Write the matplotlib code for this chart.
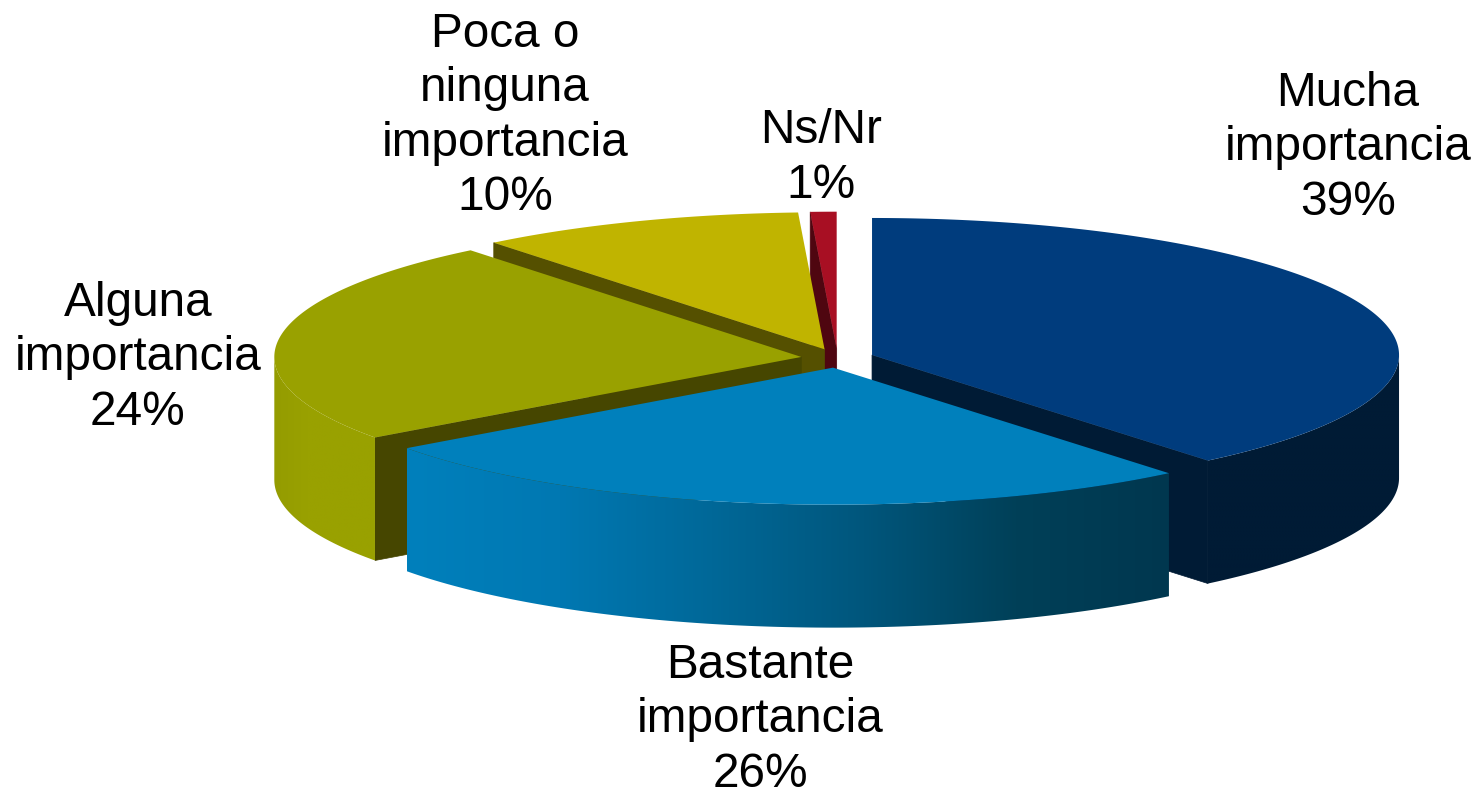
import numpy as np
from matplotlib import pyplot as plt
from matplotlib.colors import LinearSegmentedColormap
from matplotlib.patches import Polygon

plt.rcParams['font.family'] = ['Liberation Sans', 'DejaVu Sans']

# orden de la tarta, en sentido horario desde arriba
categorias = ['Mucha\nimportancia', 'Bastante\nimportancia', 'Alguna\nimportancia',
              'Poca o\nninguna\nimportancia', 'Ns/Nr']
valores = [39, 26, 24.2, 10, 0.8]

color_tapa = ['#003c7d', '#0080bc', '#99a100', '#c0b400', '#a80f23']
color_corte = ['#001b35', '#00374f', '#464600', '#555000', '#4f0610']
# degradado del lateral, de izquierda a derecha
color_lado = [['#001b35', '#001b35'],
              ['#0080bc', '#0078b2', '#006898', '#00567c', '#004058', '#00374f'],
              ['#949c00', '#99a100', '#99a100', '#99a100'],
              ['#555000', '#555000'],
              ['#4f0610', '#4f0610']]

# medidas en pixeles de la imagen
cx0, cy0 = 837.6, 358.2
rx, ry = 527, 137
alto = 123
explode = 36.6
etiqueta_xy = [(1348, 148), (760, 720), (138, 358), (505, 116), (821, 158)]
orden = [4, 3, 2, 0, 1]  # de atras hacia delante


def punto(cx, cy, ang):
    a = np.radians(ang)
    return cx + rx * np.cos(a), cy - ry * np.sin(a)


fig = plt.figure(figsize=(14.79, 7.91), dpi=100)
ax = fig.add_axes([0, 0, 1, 1])

bordes = 90 - np.concatenate(([0], np.cumsum(valores))) / np.sum(valores) * 360

for capa, i in enumerate(orden):
    z = capa * 10
    ini, fin = bordes[i], bordes[i + 1]  # ini > fin
    med = (ini + fin) / 2
    cx = cx0 + explode * np.cos(np.radians(med))
    cy = cy0 - explode * ry / rx * np.sin(np.radians(med))

    # caras de corte que miran hacia delante
    for ang, normal in ((ini, ini + 90), (fin, fin - 90)):
        if np.sin(np.radians(normal)) < -1e-6:
            x, y = punto(cx, cy, ang)
            ax.add_patch(Polygon([(cx, cy), (x, y), (x, y + alto), (cx, cy + alto)],
                                 closed=True, fc=color_corte[i], ec=color_corte[i],
                                 lw=0.5, zorder=z + 1))

    # lateral curvo, solo la parte delantera del borde
    a1 = min(ini, 0)
    a2 = max(fin, -180)
    if a1 > a2:
        t = np.linspace(a1, a2, 200)
        x, y = punto(cx, cy, t)
        pts = np.column_stack((np.r_[x, x[::-1]], np.r_[y, y[::-1] + alto]))
        lado = Polygon(pts, closed=True, fc='none', lw=0)
        ax.add_patch(lado)
        cmap = LinearSegmentedColormap.from_list('lado%d' % i, color_lado[i])
        grad = np.linspace(0, 1, 256).reshape(1, -1)
        im = ax.imshow(grad, cmap=cmap, aspect='auto', interpolation='bilinear',
                       extent=(x.min(), x.max(), y.max() + alto, y.min()), zorder=z + 2)
        im.set_clip_path(lado)

    # tapa
    t = np.linspace(ini, fin, 300)
    x, y = punto(cx, cy, t)
    tapa = np.column_stack((np.r_[cx, x], np.r_[cy, y]))
    ax.add_patch(Polygon(tapa, closed=True, fc=color_tapa[i], lw=0, zorder=z + 3))

for nombre, v, (tx, ty) in zip(categorias, valores, etiqueta_xy):
    ax.text(tx, ty, '%s\n%d%%' % (nombre, round(v)), ha='center', va='center',
            fontsize=34.4, color='black', linespacing=1.275, zorder=100)

ax.set_xlim(0, 1479)
ax.set_ylim(791, 0)
ax.axis('off')

fig.savefig('out.png', dpi=100)
